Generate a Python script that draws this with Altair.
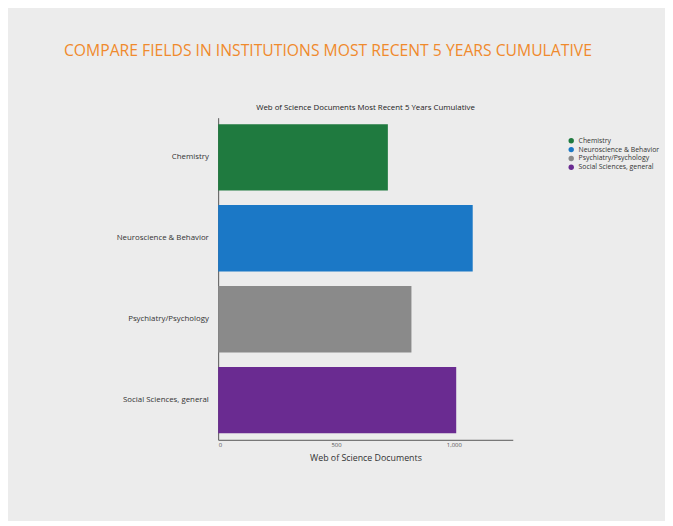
import altair as alt
import pandas as pd

fields = ["Chemistry", "Neuroscience & Behavior", "Psychiatry/Psychology", "Social Sciences, general"]
documents = [720, 1080, 820, 1010]
colors = ["#1f7a3f", "#1b78c6", "#8a8a8a", "#6a2b91"]
tick_values = [0, 500, 1000]

main_title = "COMPARE FIELDS IN INSTITUTIONS MOST RECENT 5 YEARS CUMULATIVE"
sub_title = "Web of Science Documents Most Recent 5 Years Cumulative"

df = pd.DataFrame({"Field": fields, "Documents": documents})

bars = alt.Chart(df).mark_bar().encode(
    y=alt.Y("Field:N", sort=fields, title=None,
            scale=alt.Scale(paddingInner=0.18, paddingOuter=0.08),
            axis=alt.Axis(labelFontSize=8, labelColor="#333", ticks=False,
                          domainColor="#555", labelPadding=10, labelFont="Open Sans")),
    x=alt.X("Documents:Q", title="Web of Science Documents",
            scale=alt.Scale(domain=[0, 1250], nice=False),
            axis=alt.Axis(values=tick_values, format=",.0f", grid=False, labelFontSize=6,
                          labelColor="#555", ticks=False, domainColor="#555",
                          titleFontSize=9, titleFontWeight="normal", titleColor="#333",
                          titleFont="Open Sans", labelFont="Open Sans", titlePadding=6)),
    color=alt.Color("Field:N", sort=fields,
                    scale=alt.Scale(domain=fields, range=colors),
                    legend=alt.Legend(title=None, orient="none", legendX=356, legendY=20,
                                      symbolType="circle", symbolSize=30, labelFontSize=7,
                                      labelColor="#333", rowPadding=1, labelFont="Open Sans")),
)

big_title = alt.Chart(pd.DataFrame({"t": [main_title]})).mark_text(
    align="left", baseline="bottom", fontSize=16, color="#f08a2c", font="Open Sans",
    fontWeight=400
).encode(text="t:N", x=alt.value(-157), y=alt.value(-60))

small_title = alt.Chart(pd.DataFrame({"t": [sub_title]})).mark_text(
    align="center", baseline="bottom", fontSize=8, color="#222", font="Open Sans"
).encode(text="t:N", x=alt.value(150), y=alt.value(-6))

chart = alt.layer(bars, big_title, small_title).properties(
    width=300, height=328,
    background="#ececec",
    padding={"left": 57, "top": 31, "right": 5, "bottom": 55},
).configure_view(stroke=None)

chart.save("out.html", embed_options={"renderer": "svg", "actions": False})
